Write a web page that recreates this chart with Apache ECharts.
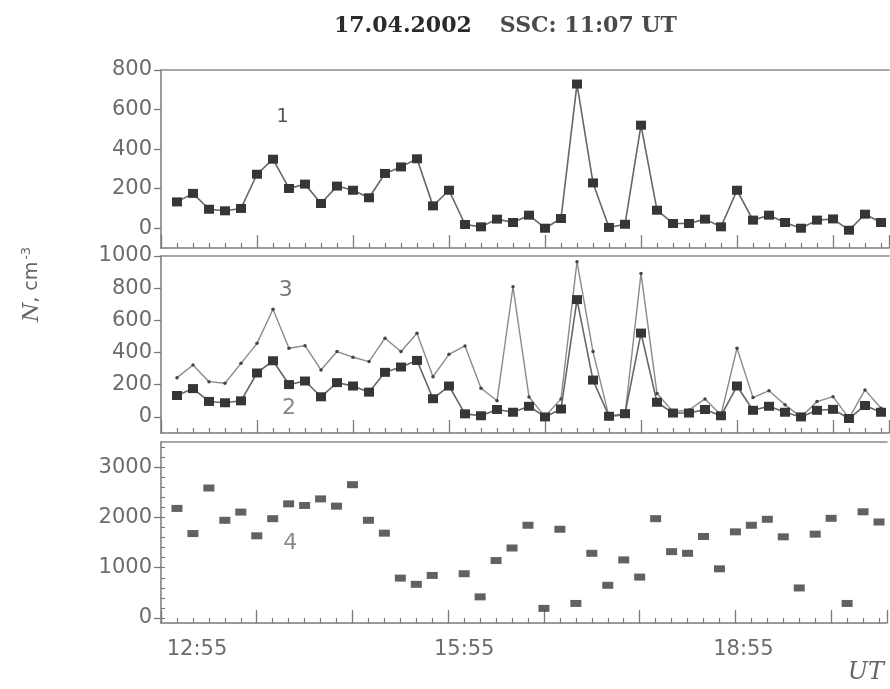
<!DOCTYPE html>
<html><head><meta charset="utf-8">
<script src="https://cdn.jsdelivr.net/npm/echarts@6/dist/echarts.min.js"></script>
<style>html,body{margin:0;padding:0;background:#fff}#c{width:890px;height:689px}</style>
</head><body><div id="c"></div>
<script>
// minutes after 12:55 UT
const sampleMinutes = [10,20,30,40,50,60,70,80,90,100,110,120,130,140,150,160,170,180,190,200,210,220,230,240,250,260,270,280,290,300,310,320,330,340,350,360,370,380,390,400,410,420,430,440,450];
// curve 1 (and 2, same values on another scale)
const series1 = [133,176,96,88,100,273,349,201,223,125,213,192,154,277,310,351,113,192,19,7,46,29,66,0,49,729,229,4,20,521,91,24,24,46,7,192,41,66,29,0,41,47,-10,71,29];
const series2 = series1;
// curve 3
const series3 = [244,323,219,209,333,457,669,427,443,292,406,371,344,489,406,520,250,389,441,178,100,809,124,2,112,965,406,2,12,892,146,33,43,112,12,427,120,163,75,0,95,126,-8,168,54];
// curve 4
const series4 = [2179,1679,2585,1943,2106,1634,1975,2270,2238,2368,2224,2651,1943,1687,793,669,846,null,880,420,1142,1392,1844,191,1765,289,1286,650,1155,813,1975,1319,1286,1620,978,1713,1844,1963,1614,597,1667,1982,289,2112,1909];

const yTicks1 = [0,200,400,600,800];
const yTicks2 = [0,200,400,600,800,1000];
const yTicks3 = [0,1000,2000,3000];
const yMinor3 = [0,200,400,600,800,1000,1200,1400,1600,1800,2000,2200,2400,2600,2800,3000,3200,3400];
const xLabelValues = [0,180,360];
const xLabelTexts = ['12:55','15:55','18:55'];
const curveNames = ['1','2','3','4'];

const pairs = (vals) => sampleMinutes.map((t,i) => [t, vals[i]]);

const axisGray = '#7a7a7a';
const labelGray = '#6c6c6c';
const gridBase = {left:161, width:728, show:false};

function xAxis(idx, withLabels){
  return {
    type:'value', gridIndex:idx, min:0, max:455, interval:60,
    axisLine:{show:true, onZero:false, lineStyle:{color:axisGray, width:1.5}},
    axisTick:{show:true, inside:true, length:13, lineStyle:{color:axisGray, width:1.3}},
    minorTick:{show:true, splitNumber:6, length:5, lineStyle:{color:axisGray, width:1.2}},
    splitLine:{show:false}, minorSplitLine:{show:false},
    axisLabel: withLabels ? {
      show:true, margin:16, color:labelGray, fontFamily:'DejaVu Sans', fontSize:21,
      formatter:(v)=>{const k=xLabelValues.indexOf(v); return k<0?'':'{r'+k+'|'+xLabelTexts[k]+'}';},
      rich:{
        r0:{padding:[0,0,0,72], color:labelGray, fontFamily:'DejaVu Sans', fontSize:21},
        r1:{padding:[0,0,0,32], color:labelGray, fontFamily:'DejaVu Sans', fontSize:21},
        r2:{padding:[0,0,0,16], color:labelGray, fontFamily:'DejaVu Sans', fontSize:21}
      }
    } : {show:false},
    name: withLabels ? 'UT' : '',
    nameLocation:'end', nameGap:-3,
    nameTextStyle: withLabels ? {fontFamily:'DejaVu Serif', fontStyle:'italic', fontSize:24, color:'#666', align:'right', verticalAlign:'top', padding:[38,0,0,0]} : {}
  };
}
function topBorder(idx){
  return {type:'value', gridIndex:idx, position:'top', min:0, max:455,
    axisLine:{show:true, onZero:false, lineStyle:{color:'#8a8a8a', width:1.6}},
    axisTick:{show:false}, axisLabel:{show:false}, splitLine:{show:false}};
}
function yAxis(idx, min, max, ticks, extra){
  return Object.assign({
    type:'value', gridIndex:idx, min:min, max:max,
    axisLine:{show:true, onZero:false, lineStyle:{color:axisGray, width:1.5}},
    axisTick:{show:true, inside:false, length:7, customValues:ticks, lineStyle:{color:axisGray, width:1.3}},
    axisLabel:{show:true, customValues:ticks, margin:9, color:labelGray, fontFamily:'DejaVu Sans', fontSize:21,
      formatter:(v)=>String(v)},
    splitLine:{show:false}
  }, extra||{});
}

const chart = echarts.init(document.getElementById('c'), null, {renderer:'canvas'});
chart.setOption({
  backgroundColor:'#ffffff',
  animation:false,
  title:{
    text:'{d|17.04.2002}{s|SSC: 11:07 UT}',
    left:329, top:10,
    textStyle:{rich:{
      d:{fontFamily:'DejaVu Serif', fontWeight:'bold', fontSize:22, color:'#2a2a2a'},
      s:{fontFamily:'DejaVu Serif', fontSize:22, color:'#4a4a4a', padding:[0,0,0,28]}
    }}
  },
  grid:[
    Object.assign({top:70, height:178}, gridBase),
    Object.assign({top:256, height:177}, gridBase),
    Object.assign({top:442, height:181}, gridBase)
  ],
  xAxis:[xAxis(0,false), xAxis(1,false), xAxis(2,true), topBorder(0), topBorder(1), topBorder(2)],
  yAxis:[
    yAxis(0,-100,800,yTicks1),
    yAxis(1,-100,1000,yTicks2,{
      name:'{i|N}, cm{p|-3}', nameLocation:'middle', nameRotate:90, nameGap:116,
      nameTextStyle:{color:'#666', fontFamily:'DejaVu Sans', fontSize:19, padding:[0,0,0,120],
        rich:{i:{fontFamily:'DejaVu Serif', fontStyle:'italic', fontSize:22, color:'#666'},
              p:{fontSize:13, color:'#666', padding:[0,0,12,2]}}}
    }),
    yAxis(2,-100,3500,yTicks3),
    {type:'value', gridIndex:2, min:-100, max:3500,
     axisLine:{show:false}, axisLabel:{show:false}, splitLine:{show:false},
     axisTick:{show:true, inside:false, length:4, customValues:yMinor3, lineStyle:{color:axisGray, width:1.1}}}
  ],
  series:[
    {name:curveNames[0], type:'line', xAxisIndex:0, yAxisIndex:0, data:pairs(series1),
     symbol:'rect', symbolSize:[10,9], itemStyle:{color:'#363636'},
     lineStyle:{color:'#666', width:1.6}, z:3,
     markPoint:{symbol:'circle', symbolSize:1, itemStyle:{color:'rgba(0,0,0,0)'},
       label:{show:true, position:'inside', formatter:curveNames[0], color:'#555', fontFamily:'DejaVu Sans', fontSize:19},
       data:[{coord:[76,560]}]}},
    {name:curveNames[2], type:'line', xAxisIndex:1, yAxisIndex:1, data:pairs(series3),
     symbol:'circle', symbolSize:3.5, itemStyle:{color:'#444'},
     lineStyle:{color:'#8a8a8a', width:1.4}, z:2,
     markPoint:{symbol:'circle', symbolSize:1, itemStyle:{color:'rgba(0,0,0,0)'},
       label:{show:true, position:'inside', formatter:curveNames[2], color:'#777', fontFamily:'DejaVu Sans', fontSize:22},
       data:[{coord:[78,789]}]}},
    {name:curveNames[1], type:'line', xAxisIndex:1, yAxisIndex:1, data:pairs(series2),
     symbol:'rect', symbolSize:[10,9], itemStyle:{color:'#363636'},
     lineStyle:{color:'#666', width:1.6}, z:3,
     markPoint:{symbol:'circle', symbolSize:1, itemStyle:{color:'rgba(0,0,0,0)'},
       label:{show:true, position:'inside', formatter:curveNames[1], color:'#888', fontFamily:'DejaVu Sans', fontSize:22},
       data:[{coord:[80,56]}]}},
    {name:curveNames[3], type:'scatter', xAxisIndex:2, yAxisIndex:2, data:pairs(series4),
     symbol:'rect', symbolSize:[11,7], itemStyle:{color:'#3a3a3a'}, z:3,
     markPoint:{symbol:'circle', symbolSize:1, itemStyle:{color:'rgba(0,0,0,0)'},
       label:{show:true, position:'inside', formatter:curveNames[3], color:'#888', fontFamily:'DejaVu Sans', fontSize:22},
       data:[{coord:[81,1476]}]}}
  ]
});
</script></body></html>
